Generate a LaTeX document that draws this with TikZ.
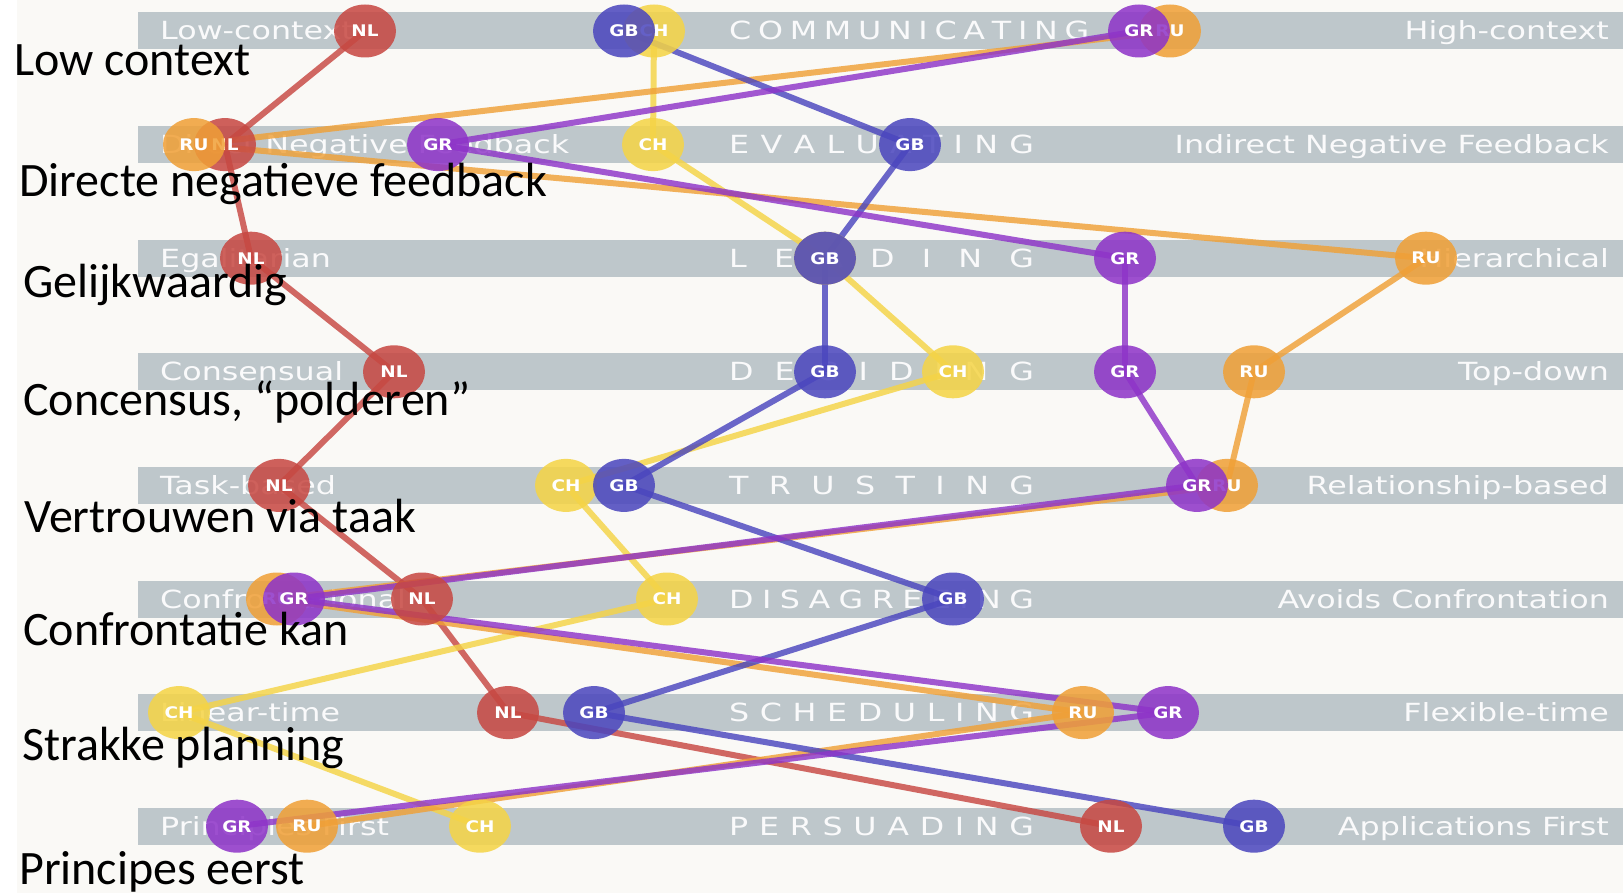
\documentclass[tikz,border=0pt]{standalone}
\usepackage{fontspec}
\usepackage{graphicx}
\setmainfont{Carlito}
\newfontfamily\chartfont{DejaVu Sans}
\usepackage{tikz}
\usetikzlibrary{shapes.geometric}

\definecolor{nlred}{HTML}{C74842}
\definecolor{gbblue}{HTML}{4B46BE}
\definecolor{chyellow}{HTML}{F5D446}
\definecolor{grpurple}{HTML}{8E34C8}
\definecolor{ruorange}{HTML}{F0A037}
\definecolor{bargray}{HTML}{BEC7CB}
\definecolor{paper}{HTML}{FAF9F6}

\newcommand\widebar[1]{\scalebox{1.27}[1]{#1}}
\newcommand\widetag[1]{\scalebox{1.15}[1]{#1}}

\pgfdeclarelayer{bars}
\pgfdeclarelayer{links}
\pgfsetlayers{bars,links,main}

\begin{document}
\begin{tikzpicture}[x=1pt, y=-1pt,
    bar/.style={fill=bargray, draw=none},
    pole/.style={inner sep=0, text=white!92!bargray, font=\chartfont\fontsize{25}{25}\selectfont},
    country/.style={ellipse, minimum width=62pt, minimum height=53pt, inner sep=0,
        fill opacity=0.86, text opacity=1, text=white, font=\chartfont\bfseries\fontsize{16}{16}\selectfont},
    link/.style={line width=6pt, draw opacity=0.82},
    remark/.style={anchor=base west, inner sep=0, font=\fontsize{48}{50}\selectfont}
]
    \useasboundingbox (0,0) rectangle (1623,893);

    % Bars
    \begin{pgfonlayer}{bars}
    \fill[white] (0,0) rectangle (1623,893);
    \fill[paper] (17,0) rectangle (1623,893);
    \foreach \r/\low/\scale/\high in {
        1/Low-context/C O M M U N I C A T I N G/High-context,
        2/Direct Negative Feedback/E V A L U A T I N G/Indirect Negative Feedback,
        3/Egalitarian/L E A D I N G/Hierarchical,
        4/Consensual/D E C I D I N G/Top-down,
        5/Task-based/T R U S T I N G/Relationship-based,
        6/Confrontational/D I S A G R E E I N G/Avoids Confrontation,
        7/Linear-time/S C H E D U L I N G/Flexible-time,
        8/Principles First/P E R S U A D I N G/Applications First} {
        \pgfmathsetmacro\ypos{31+113.6*(\r-1)}
        \fill[bar] (138,\ypos-18.5) rectangle (1623,\ypos+18.5);
        \node[pole, anchor=base west] (low\r) at (160,\ypos+9) {\widebar{\low}};
        \node[pole, anchor=base west] (scale\r) at (729,\ypos+9) {\widebar{\makebox[240pt][s]{\scale}}};
        \node[pole, anchor=base east] (high\r) at (1609,\ypos+9) {\widebar{\high}};
    }
    \end{pgfonlayer}

    % Countries
    \foreach \c/\col/\xs in {
        NL/nlred/{365,225,251,394,279,422,508,1111},
        CH/chyellow/{654,653,825,953,566,667,179,480},
        RU/ruorange/{1170,194,1426,1254,1227,277,1083,307},
        GB/gbblue/{624,910,825,825,624,953,594,1254},
        GR/grpurple/{1139,438,1125,1125,1197,294,1168,237}} {
        \foreach \x [count=\r] in \xs {
            \node[country, fill=\col] (\c\r) at (\x,{31+113.6*(\r-1)}) {\widetag{\c}};
        }
        \begin{pgfonlayer}{links}
        \foreach \r in {1,...,7} {
            \pgfmathtruncatemacro\n{\r+1}
            \draw[link, \col] (\c\r.center) -- (\c\n.center);
        }
        \end{pgfonlayer}
    }

    % Dutch notes
    \node[remark] (note1) at (14,76) {Low context};
    \node[remark] (note2) at (19,197) {Directe negatieve feedback};
    \node[remark] (note3) at (23,298) {Gelijkwaardig};
    \node[remark] (note4) at (23,415) {Concensus, “polderen”};
    \node[remark] (note5) at (24,532) {Vertrouwen via taak};
    \node[remark] (note6) at (23,645) {Confrontatie kan};
    \node[remark] (note7) at (22,760) {Strakke planning};
    \node[remark] (note8) at (19,884) {Principes eerst};
\end{tikzpicture}
\end{document}
